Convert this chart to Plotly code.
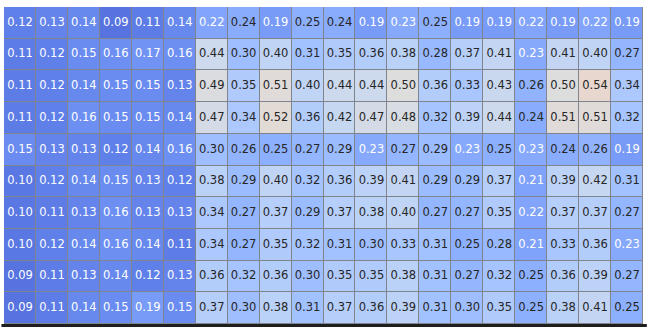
import plotly.graph_objects as go
from plotly.colors import sample_colorscale

# Score grid: 10 rows x 20 columns
rows = list(range(10))
cols = list(range(20))

r0 = [0.12, 0.13, 0.14, 0.09, 0.11, 0.14, 0.22, 0.24, 0.19, 0.25, 0.24, 0.19, 0.23, 0.25, 0.19, 0.19, 0.22, 0.19, 0.22, 0.19]
r1 = [0.11, 0.12, 0.15, 0.16, 0.17, 0.16, 0.44, 0.30, 0.40, 0.31, 0.35, 0.36, 0.38, 0.28, 0.37, 0.41, 0.23, 0.41, 0.40, 0.27]
r2 = [0.11, 0.12, 0.14, 0.15, 0.15, 0.13, 0.49, 0.35, 0.51, 0.40, 0.44, 0.44, 0.50, 0.36, 0.33, 0.43, 0.26, 0.50, 0.54, 0.34]
r3 = [0.11, 0.12, 0.16, 0.15, 0.15, 0.14, 0.47, 0.34, 0.52, 0.36, 0.42, 0.47, 0.48, 0.32, 0.39, 0.44, 0.24, 0.51, 0.51, 0.32]
r4 = [0.15, 0.13, 0.13, 0.12, 0.14, 0.16, 0.30, 0.26, 0.25, 0.27, 0.29, 0.23, 0.27, 0.29, 0.23, 0.25, 0.23, 0.24, 0.26, 0.19]
r5 = [0.10, 0.12, 0.14, 0.15, 0.13, 0.12, 0.38, 0.29, 0.40, 0.32, 0.36, 0.39, 0.41, 0.29, 0.29, 0.37, 0.21, 0.39, 0.42, 0.31]
r6 = [0.10, 0.11, 0.13, 0.16, 0.13, 0.13, 0.34, 0.27, 0.37, 0.29, 0.37, 0.38, 0.40, 0.27, 0.27, 0.35, 0.22, 0.37, 0.37, 0.27]
r7 = [0.10, 0.12, 0.14, 0.16, 0.14, 0.11, 0.34, 0.27, 0.35, 0.32, 0.31, 0.30, 0.33, 0.31, 0.25, 0.28, 0.21, 0.33, 0.36, 0.23]
r8 = [0.09, 0.11, 0.13, 0.14, 0.12, 0.13, 0.36, 0.32, 0.36, 0.30, 0.35, 0.35, 0.38, 0.31, 0.27, 0.32, 0.25, 0.36, 0.39, 0.27]
r9 = [0.09, 0.11, 0.14, 0.15, 0.19, 0.15, 0.37, 0.30, 0.38, 0.31, 0.37, 0.36, 0.39, 0.31, 0.30, 0.35, 0.25, 0.38, 0.41, 0.25]

z = [r0, r1, r2, r3, r4, r5, r6, r7, r8, r9]

# Moreland coolwarm diverging map (33 control points)
coolwarm_rgb = [
    (59, 76, 192), (68, 90, 204), (77, 104, 215), (87, 117, 225),
    (98, 130, 234), (108, 142, 241), (119, 154, 247), (130, 165, 251),
    (141, 176, 254), (152, 185, 255), (163, 194, 255), (174, 201, 253),
    (184, 208, 249), (194, 213, 244), (204, 217, 238), (213, 219, 230),
    (221, 221, 221), (229, 216, 209), (236, 211, 197), (241, 204, 185),
    (245, 196, 173), (247, 187, 160), (247, 177, 148), (247, 166, 135),
    (244, 154, 123), (241, 141, 111), (236, 127, 99), (229, 112, 88),
    (222, 96, 77), (213, 80, 66), (203, 62, 56), (192, 40, 47),
    (180, 4, 38),
]
coolwarm = [[k / 32, f"rgb{c}"] for k, c in enumerate(coolwarm_rgb)]
zmin, zmax = 0.0, 1.0


def text_color(v):
    c = sample_colorscale(coolwarm, [(v - zmin) / (zmax - zmin)])[0]
    r, g, b = [float(t) / 255 for t in c[c.index("(") + 1:-1].split(",")]

    def lin(u):
        return u / 12.92 if u <= 0.03928 else ((u + 0.055) / 1.055) ** 2.4

    lum = 0.2126 * lin(r) + 0.7152 * lin(g) + 0.0722 * lin(b)
    return "white" if lum < 0.408 else "#262626"


xs, ys, labels, colors = [], [], [], []
for i in rows:
    for j in cols:
        xs.append(j)
        ys.append(i)
        labels.append(f"{z[i][j]:.2f}")
        colors.append(text_color(z[i][j]))

fig = go.Figure()
fig.add_trace(go.Heatmap(
    z=z, x=cols, y=rows,
    colorscale=coolwarm, zmin=zmin, zmax=zmax,
    showscale=False, xgap=1, ygap=1, hoverinfo="skip",
))
fig.add_trace(go.Scatter(
    x=xs, y=ys, mode="text", text=labels,
    textfont=dict(family="DejaVu Sans", size=11.5, color=colors),
    hoverinfo="skip", showlegend=False,
))

fig.update_xaxes(range=[-0.5, 19.5], showticklabels=False, showgrid=False,
                 zeroline=False, ticks="")
fig.update_yaxes(range=[9.5, -0.5], showticklabels=False, showgrid=False,
                 zeroline=False, ticks="")

# dark baseline strip under the grid
fig.add_shape(type="rect", xref="paper", yref="paper",
              x0=-0.004, x1=1.006, y0=-0.0095, y1=0.0,
              fillcolor="#1e1e1e", line_width=0, layer="above")

fig.update_layout(
    width=650, height=327,
    margin=dict(l=4, r=7, t=7, b=3),
    paper_bgcolor="white",
    plot_bgcolor="#80848c",
    showlegend=False,
)

fig.write_html("out.html")
